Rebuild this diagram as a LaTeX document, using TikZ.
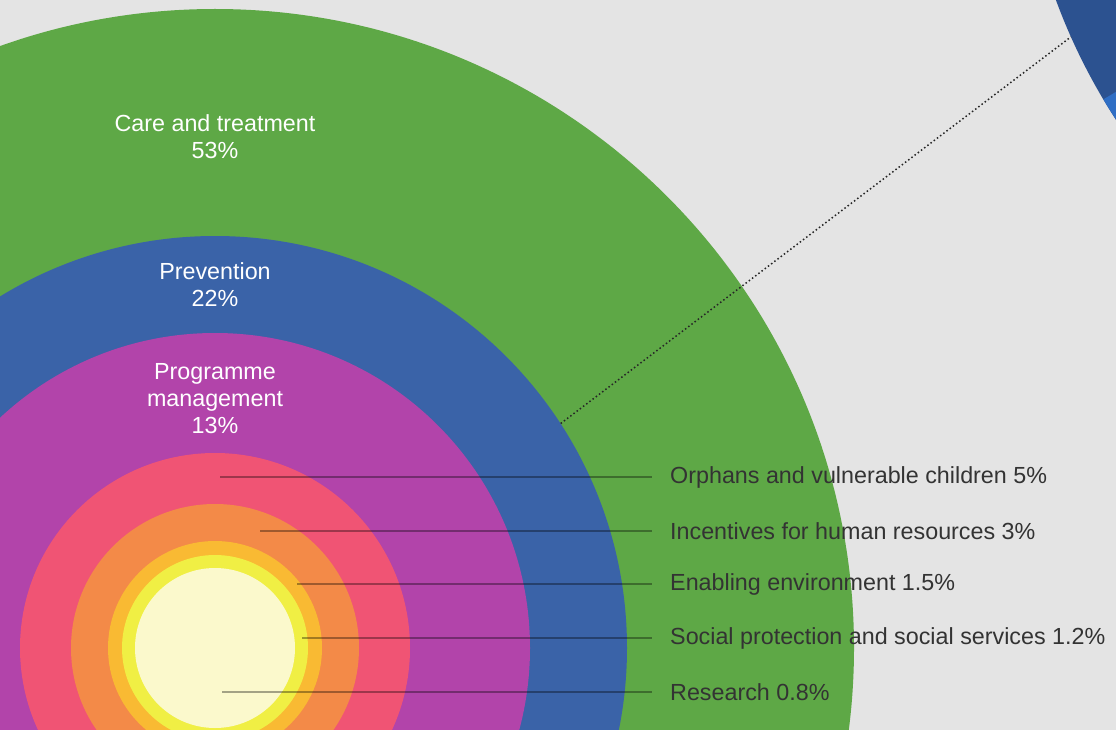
\documentclass[tikz,border=0pt]{standalone}
\usepackage{fontspec}
\setmainfont{Liberation Sans}
\definecolor{bgcol}{HTML}{E4E4E4}
\definecolor{caregreen}{HTML}{5EA846}
\definecolor{prevblue}{HTML}{3A63A8}
\definecolor{progmag}{HTML}{B244AA}
\definecolor{orphpink}{HTML}{F05474}
\definecolor{incorange}{HTML}{F38A48}
\definecolor{enabyellow}{HTML}{F9BA33}
\definecolor{socyellow}{HTML}{F0EF44}
\definecolor{rescream}{HTML}{FBF9CC}
\definecolor{donorblue}{HTML}{2C5290}
\definecolor{donorlight}{HTML}{2F6EC4}
\definecolor{labelgray}{HTML}{333333}

\begin{document}
\begin{tikzpicture}[x=1pt, y=-1pt,
    ring/.style={circle, inner sep=0pt, minimum size=#1},
    ringtext/.style={text=white, align=center, font=\fontsize{23.3}{27}\selectfont},
    lbl/.style={text=labelgray, anchor=west, inner xsep=18pt, inner ysep=0pt, font=\fontsize{23.3}{27}\selectfont},
    leader/.style={draw=black, opacity=0.35, line width=1.4pt}]
    \clip (0,0) rectangle (1116,730);
    \fill [bgcol] (0,0) rectangle (1116,730);
    \coordinate (C) at (215,648);
    \coordinate (D) at (1621,-208);
    \node [ring=1204pt, fill=donorblue] (donor) at (D) {};
    \fill [donorlight] (D) -- ++(210.7:602pt) arc [start angle=210.7, end angle=240, radius=602pt] -- cycle;
    \node [ring=1278pt, fill=caregreen] (care) at (C) {};
    \node [ring=824pt, fill=prevblue] (prev) at (C) {};
    \node [ring=630pt, fill=progmag] (prog) at (C) {};
    \node [ring=390pt, fill=orphpink] (orph) at (C) {};
    \node [ring=288pt, fill=incorange] (inc) at (C) {};
    \node [ring=214pt, fill=enabyellow] (enab) at (C) {};
    \node [ring=186pt, fill=socyellow] (soc) at (C) {};
    \node [ring=160pt, fill=rescream] (res) at (C) {};
    \draw [black!85, line width=1.5pt, dash pattern=on 1.5pt off 2.5pt] (prev.33) -- (donor.204.8);
    \node at (215,137) [ringtext] (caretext) {Care and treatment\\53\%};
    \node at (215,285) [ringtext] (prevtext) {Prevention\\22\%};
    \node at (215,399) [ringtext] (progtext) {Programme\\management\\13\%};
    \node at (652,477) [lbl] (orphlbl) {Orphans and vulnerable children 5\%};
    \node at (652,531) [lbl] (inclbl) {Incentives for human resources 3\%};
    \node at (652,584) [lbl] (enablbl) {Enabling environment 1.5\%};
    \node at (652,638) [lbl] (soclbl) {Social protection and social services 1.2\%};
    \node at (652,692) [lbl] (reslbl) {Research 0.8\%};
    \coordinate (O) at (220,477);
    \coordinate (I) at (260,531);
    \coordinate (E) at (297,584);
    \coordinate (S) at (302,638);
    \coordinate (R) at (222,692);
    \draw [leader] (O) -- (orphlbl.west);
    \draw [leader] (I) -- (inclbl.west);
    \draw [leader] (E) -- (enablbl.west);
    \draw [leader] (S) -- (soclbl.west);
    \draw [leader] (R) -- (reslbl.west);
\end{tikzpicture}
\end{document}
